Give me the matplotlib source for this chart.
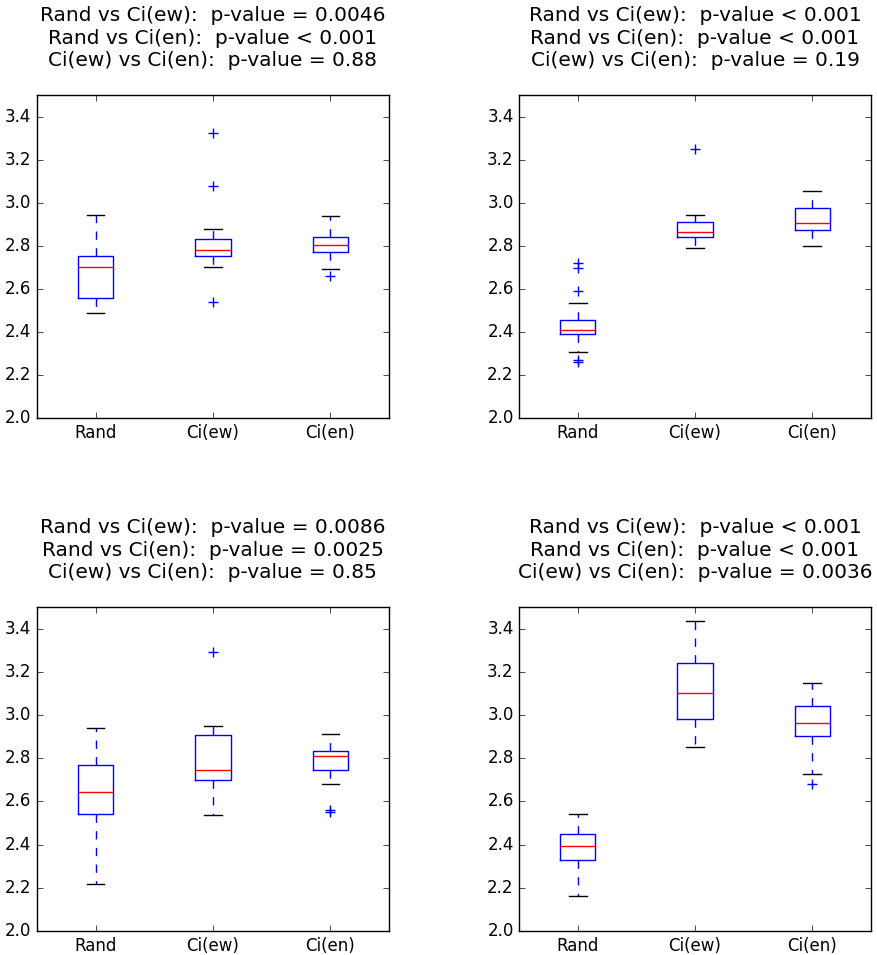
import matplotlib
matplotlib.use("Agg")
import matplotlib.pyplot as plt

plt.style.use("classic")

labels = ["Rand", "Ci(ew)", "Ci(en)"]

titles = [
    "Rand vs Ci(ew):  p-value = 0.0046\nRand vs Ci(en):  p-value < 0.001\nCi(ew) vs Ci(en):  p-value = 0.88",
    "Rand vs Ci(ew):  p-value < 0.001\nRand vs Ci(en):  p-value < 0.001\nCi(ew) vs Ci(en):  p-value = 0.19",
    "Rand vs Ci(ew):  p-value = 0.0086\nRand vs Ci(en):  p-value = 0.0025\nCi(ew) vs Ci(en):  p-value = 0.85",
    "Rand vs Ci(ew):  p-value < 0.001\nRand vs Ci(en):  p-value < 0.001\nCi(ew) vs Ci(en):  p-value = 0.0036",
]

# box summaries: [whislo, q1, med, q3, whishi]
p1_rand = [2.487, 2.557, 2.699, 2.752, 2.941]
p1_ew = [2.699, 2.752, 2.780, 2.831, 2.878]
p1_en = [2.691, 2.769, 2.803, 2.839, 2.936]
p1_fliers = [[], [3.324, 3.079, 2.538], [2.660]]

p2_rand = [2.305, 2.388, 2.411, 2.454, 2.535]
p2_ew = [2.788, 2.839, 2.865, 2.910, 2.941]
p2_en = [2.797, 2.873, 2.905, 2.975, 3.054]
p2_fliers = [[2.718, 2.695, 2.592, 2.270, 2.262], [3.248], []]

p3_rand = [2.217, 2.544, 2.645, 2.767, 2.940]
p3_ew = [2.535, 2.701, 2.746, 2.909, 2.947]
p3_en = [2.679, 2.746, 2.812, 2.833, 2.910]
p3_fliers = [[], [3.290], [2.560, 2.550]]

p4_rand = [2.164, 2.330, 2.395, 2.447, 2.541]
p4_ew = [2.851, 2.983, 3.101, 3.239, 3.433]
p4_en = [2.727, 2.902, 2.961, 3.043, 3.147]
p4_fliers = [[], [], [2.681]]

panels = [
    ([p1_rand, p1_ew, p1_en], p1_fliers),
    ([p2_rand, p2_ew, p2_en], p2_fliers),
    ([p3_rand, p3_ew, p3_en], p3_fliers),
    ([p4_rand, p4_ew, p4_en], p4_fliers),
]

fig = plt.figure(figsize=(8.77, 9.55), dpi=100)
fig.patch.set_facecolor("white")
boxes = [
    [0.042, 0.5623, 0.4016, 0.3382],
    [0.592, 0.5623, 0.401, 0.3382],
    [0.042, 0.0251, 0.4016, 0.3393],
    [0.592, 0.0251, 0.401, 0.3393],
]

for i, (summ, fl) in enumerate(panels):
    ax = fig.add_axes(boxes[i])
    stats = []
    for s, f, lab in zip(summ, fl, labels):
        stats.append(dict(whislo=s[0], q1=s[1], med=s[2], q3=s[3], whishi=s[4],
                          fliers=f, label=lab))
    ax.bxp(stats, widths=0.3, showfliers=True,
           flierprops=dict(marker="+", markeredgecolor="b", markersize=7,
                           linestyle="none"))
    ax.set_ylim(2.0, 3.5)
    ax.set_xlim(0.5, 3.5)
    ax.set_yticks([2.0, 2.2, 2.4, 2.6, 2.8, 3.0, 3.2, 3.4])
    ax.tick_params(labelsize=12)
    ax.set_title(titles[i], fontsize=14.5, pad=21, linespacing=1.22)

plt.savefig("out.png", dpi=100, facecolor="white")
